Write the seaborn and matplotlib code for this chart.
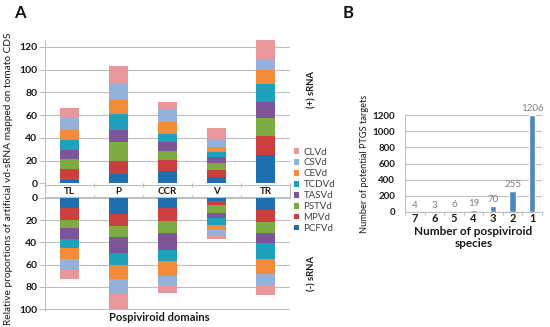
import numpy as np
import pandas as pd
import matplotlib
matplotlib.use("Agg")
import matplotlib.pyplot as plt
import seaborn as sns

# panel A data: viroid species (stack order bottom->top) per domain
domains = ['TL', 'P', 'CCR', 'V', 'TR']
species = ['PCFVd', 'MPVd', 'PSTVd', 'TASVd', 'TCDVd', 'CEVd', 'CSVd', 'CLVd']
colors = ['#1f6fae', '#cc3f3f', '#7eab41', '#7b5597', '#1ea1ba', '#f38b3b', '#93b1db', '#e8979a']

# (+) sRNA, one list per domain, values in species order
plus_TL = [2.5, 10.5, 8.5, 8.0, 8.5, 9.0, 10.0, 9.0]
plus_P = [8.2, 11.5, 16.4, 11.1, 14.1, 12.3, 14.6, 15.2]
plus_CCR = [10.5, 10.4, 7.3, 7.9, 7.3, 10.9, 11.4, 5.5]
plus_V = [5.8, 6.2, 6.0, 5.2, 4.7, 3.8, 7.3, 10.0]
plus_TR = [25.0, 16.5, 15.5, 14.3, 16.4, 11.7, 9.9, 17.5]

# (-) sRNA
minus_TL = [9.0, 10.5, 8.0, 9.9, 7.8, 9.9, 9.3, 8.1]
minus_P = [14.7, 10.7, 9.9, 13.8, 11.4, 12.0, 13.4, 14.1]
minus_CCR = [9.0, 12.0, 10.7, 14.7, 10.5, 13.1, 8.7, 6.3]
minus_V = [3.0, 3.3, 7.5, 4.5, 6.3, 4.4, 5.4, 3.0]
minus_TR = [11.0, 10.3, 10.1, 9.6, 14.1, 12.9, 10.4, 9.0]

# panel B data
n_species = ['7', '6', '5', '4', '3', '2', '1']
n_targets = [4, 3, 6, 19, 70, 255, 1206]

plus_df = pd.DataFrame([plus_TL, plus_P, plus_CCR, plus_V, plus_TR], index=domains, columns=species)
minus_df = pd.DataFrame([minus_TL, minus_P, minus_CCR, minus_V, minus_TR], index=domains, columns=species)

sns.set_theme(style='white')
plt.rcParams['font.family'] = ['Lato', 'DejaVu Sans']

fig = plt.figure(figsize=(5.5, 3.27), dpi=100)
ax_top = fig.add_axes([0.082, 0.4394, 0.4455, 0.4382])
ax_band = fig.add_axes([0.082, 0.399, 0.4455, 0.035])
ax_bot = fig.add_axes([0.082, 0.051, 0.4455, 0.344])
ax_b = fig.add_axes([0.7364, 0.3517, 0.249, 0.2966])

grid_c = '#bfbfbf'
txt_c = '#1a1a1a'


def stack(ax, df):
    x = np.arange(len(df.index))
    bottom = np.zeros(len(df.index))
    handles = []
    for sp, c in zip(df.columns, colors):
        h = ax.bar(x, df[sp].values, 0.4, bottom=bottom, color=c, linewidth=0, zorder=2, label=sp)
        bottom += df[sp].values
        handles.append(h)
    return handles


def style_axis(ax):
    for s in ['top', 'right', 'bottom']:
        ax.spines[s].set_visible(False)
    ax.spines['left'].set_color(grid_c)
    ax.spines['left'].set_linewidth(0.8)
    ax.yaxis.grid(True, color=grid_c, linewidth=0.8, zorder=0)
    ax.set_axisbelow(True)
    ax.tick_params(axis='y', which='both', left=True, length=4, width=0.8, color=grid_c,
                   labelsize=7.5, labelcolor=txt_c, pad=1.5)
    for t in ax.get_yticklabels():
        t.set_fontweight('bold')
    ax.set_xticks([])
    ax.set_xlim(-0.5, 4.5)


handles = stack(ax_top, plus_df)
ax_top.set_ylim(0, 126)
ax_top.set_yticks(range(0, 121, 20))
style_axis(ax_top)

stack(ax_bot, minus_df)
ax_bot.set_ylim(101, 0)
ax_bot.set_yticks(range(0, 101, 20))
style_axis(ax_bot)

# domain label band
ax_band.set_xlim(-0.5, 4.5)
ax_band.set_ylim(0, 1)
ax_band.set_yticks([])
ax_band.set_xticks(np.arange(-0.5, 4.6, 1.0))
ax_band.set_xticklabels([])
ax_band.tick_params(axis='x', bottom=True, top=True, length=2.5, width=0.8,
                    color=grid_c, direction='inout')
for i, d in enumerate(domains):
    ax_band.text(i, 0.45, d, ha='center', va='center', fontsize=7, fontweight='bold', color=txt_c)
for s in ax_band.spines.values():
    s.set_visible(True)
    s.set_color(grid_c)
    s.set_linewidth(0.8)

fig.text(0.015, 0.453, 'Relative proportions of artificial vd-sRNA mapped on tomato CDS',
         rotation=90, ha='center', va='center', fontsize=7.3, color=txt_c)
fig.text(0.29, 0.028, 'Pospiviroid domains', ha='center', va='center', fontsize=8,
         fontweight='bold', color=txt_c)
fig.text(0.567, 0.725, '(+) sRNA', rotation=90, ha='center', va='center', fontsize=6.8,
         fontweight='bold', color=txt_c)
fig.text(0.567, 0.165, '(-) sRNA', rotation=90, ha='center', va='center', fontsize=6.8,
         fontweight='bold', color=txt_c)
fig.text(0.036, 0.96, 'A', ha='center', va='center', fontsize=12, fontweight='bold', color='#111111')
fig.text(0.633, 0.96, 'B', ha='center', va='center', fontsize=12, fontweight='bold', color='#111111')

leg = fig.legend(handles[::-1], species[::-1], loc='center left', bbox_to_anchor=(0.535, 0.418),
                 frameon=False, fontsize=7, handlelength=0.5, handleheight=0.5,
                 handletextpad=0.45, labelspacing=0.2, borderaxespad=0, borderpad=0)
for t in leg.get_texts():
    t.set_color('#404040')

# panel B
b_df = pd.DataFrame({'species': n_species, 'targets': n_targets})
sns.barplot(data=b_df, x='species', y='targets', order=n_species, color='#4f86c0',
            saturation=1, width=0.33, ax=ax_b, zorder=2)
for p, v in zip(ax_b.patches, n_targets):
    ax_b.text(p.get_x() + p.get_width() / 2, min(v, 1200) + 25, str(v), ha='center', va='bottom',
              fontsize=7, color='#7f7f7f')
ax_b.set_ylim(0, 1200)
ax_b.set_yticks(range(0, 1201, 200))
ax_b.set_xlim(-0.45, 6.45)
ax_b.yaxis.grid(True, color=grid_c, linewidth=0.8, zorder=0)
ax_b.set_axisbelow(True)
for s in ['top', 'right']:
    ax_b.spines[s].set_visible(False)
for s in ['left', 'bottom']:
    ax_b.spines[s].set_color(grid_c)
    ax_b.spines[s].set_linewidth(0.8)
ax_b.set_xticks(np.arange(-0.5, 6.6, 1.0), minor=True)
ax_b.tick_params(axis='x', which='minor', bottom=True, length=2, width=0.8, color=grid_c)
ax_b.tick_params(axis='x', which='major', length=0, labelsize=8, labelcolor=txt_c, pad=1)
ax_b.tick_params(axis='y', left=False, labelsize=7, labelcolor=txt_c, pad=1)
for t in ax_b.get_xticklabels() + ax_b.get_yticklabels():
    t.set_fontweight('bold')
ax_b.set_xlabel('Number of pospiviroid\nspecies', fontsize=8.5, fontweight='bold', color=txt_c,
                labelpad=1, linespacing=1.1)
ax_b.set_ylabel('Number of potential PTGS targets', fontsize=6.7, color=txt_c, labelpad=3)

fig.savefig('out.png', dpi=100)
